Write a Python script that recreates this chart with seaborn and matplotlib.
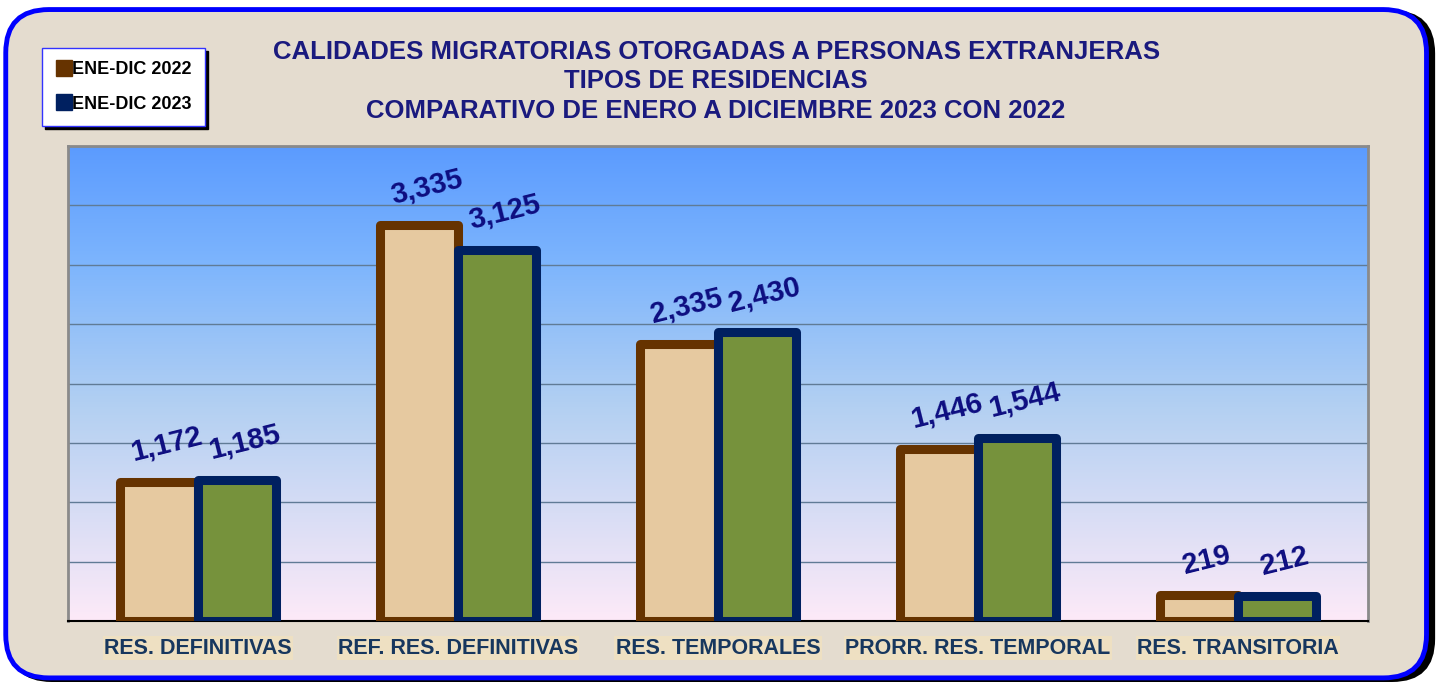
import numpy as np
import pandas as pd
import seaborn as sns
import matplotlib.pyplot as plt
from matplotlib.colors import LinearSegmentedColormap
from matplotlib.patches import FancyBboxPatch
from matplotlib.lines import Line2D

categories = ["RES. DEFINITIVAS", "REF. RES. DEFINITIVAS", "RES. TEMPORALES",
              "PRORR. RES. TEMPORAL", "RES. TRANSITORIA"]
series = ["ENE-DIC 2022", "ENE-DIC 2023"]
values_2022 = [1172, 3335, 2335, 1446, 219]
values_2023 = [1185, 3125, 2430, 1544, 212]
title_lines = ["CALIDADES MIGRATORIAS OTORGADAS A PERSONAS EXTRANJERAS",
               "TIPOS DE RESIDENCIAS",
               "COMPARATIVO DE ENERO A DICIEMBRE 2023 CON 2022"]

df = pd.DataFrame({
    "categoria": categories * 2,
    "periodo": [series[0]] * len(categories) + [series[1]] * len(categories),
    "valor": values_2022 + values_2023,
})

fills = {series[0]: "#e6c9a0", series[1]: "#76923c"}
edges = {series[0]: "#663300", series[1]: "#002060"}

sns.set_style("white")
plt.rcParams["font.family"] = ["Liberation Sans", "DejaVu Sans"]

fig = plt.figure(figsize=(14.38, 6.82), dpi=100)
fig.patch.set_facecolor("white")

# rounded frame with shadow
fig.patches.append(FancyBboxPatch((0.006, 0.0), 0.992, 0.985, boxstyle="round,pad=0,rounding_size=0.03",
                                  transform=fig.transFigure, facecolor="black", edgecolor="none",
                                  mutation_aspect=1438 / 682, zorder=0))
fig.patches.append(FancyBboxPatch((0.004, 0.006), 0.988, 0.98, boxstyle="round,pad=0,rounding_size=0.03",
                                  transform=fig.transFigure, facecolor="#e4dccf", edgecolor="#0000ff",
                                  linewidth=3.5, mutation_aspect=1438 / 682, zorder=1))

ax = fig.add_axes([0.0473, 0.0894, 0.904, 0.6965])
ax.set_zorder(2)

# plot area gradient
cmap = LinearSegmentedColormap.from_list(
    "bg", [(0, "#fdeaf8"), (0.45, "#b3d0f2"), (0.75, "#7db5fd"), (1, "#5b9bff")])
grad = np.linspace(0, 1, 256).reshape(-1, 1)
ax.imshow(grad, cmap=cmap, origin="lower", aspect="auto", extent=[0, 1, 0, 1],
          transform=ax.transAxes, zorder=0)

sns.barplot(data=df, x="categoria", y="valor", hue="periodo", order=categories,
            hue_order=series, palette=fills, saturation=1, width=0.6, ax=ax,
            legend=False, zorder=3)

for container, s in zip(ax.containers, series):
    for bar in container:
        bar.set_edgecolor(edges[s])
        bar.set_linewidth(6.5)
        bar.set_joinstyle("round")

for container, vals in zip(ax.containers, [values_2022, values_2023]):
    for bar, v in zip(container, vals):
        ax.text(bar.get_x() + bar.get_width() / 2 + 0.03, v + 130, f"{v:,}",
                rotation=14, ha="center", va="bottom", fontsize=21,
                fontweight="bold", color="#0d0d80", zorder=5)

ax.set_xlim(-0.5, len(categories) - 0.5)
ax.set_ylim(0, 4000)
ax.set_yticks(np.arange(0, 4001, 500))
ax.set_yticklabels([])
ax.tick_params(axis="y", length=0)
ax.grid(axis="y", color="#607b96", linewidth=1, zorder=1)
ax.set_axisbelow(True)
ax.set_xlabel("")
ax.set_ylabel("")

ax.tick_params(axis="x", which="major", length=0, pad=12)
ax.set_xticks(np.arange(0.5, len(categories) - 0.5), minor=True)
ax.tick_params(axis="x", which="minor", length=6, color="#808080", direction="out")
for lbl in ax.get_xticklabels():
    lbl.set_fontsize(15.5)
    lbl.set_fontweight("bold")
    lbl.set_color("#17375e")
    lbl.set_bbox(dict(facecolor="#eee0c2", edgecolor="none", pad=1))

for side in ["left", "top", "right"]:
    ax.spines[side].set_color("#8a8a8a")
    ax.spines[side].set_linewidth(2)
ax.spines["bottom"].set_color("black")
ax.spines["bottom"].set_linewidth(1.5)

for i, line in enumerate(title_lines):
    fig.text(0.498, 1 - (52 + 29.5 * i) / 682, line, ha="center", va="center",
             fontsize=18.5, fontweight="bold", color="#1a1a7e", zorder=3)

# legend
handles = [Line2D([], [], marker="s", linestyle="none", markersize=11,
                  markerfacecolor=edges[s], markeredgecolor=edges[s]) for s in series]
leg = fig.legend(handles, series, loc="upper left", bbox_to_anchor=(0.023, 0.943),
                 frameon=True, fancybox=False, shadow={"color": "black", "alpha": 1},
                 prop={"size": 13, "weight": "bold"}, handletextpad=0.0,
                 labelspacing=0.95, borderpad=0.75, handlelength=0.9, labelcolor="black")
leg.get_frame().set_edgecolor("#3333ff")
leg.get_frame().set_linewidth(1)
leg.set_zorder(4)

fig.savefig("out.png", dpi=100, facecolor=fig.get_facecolor())
